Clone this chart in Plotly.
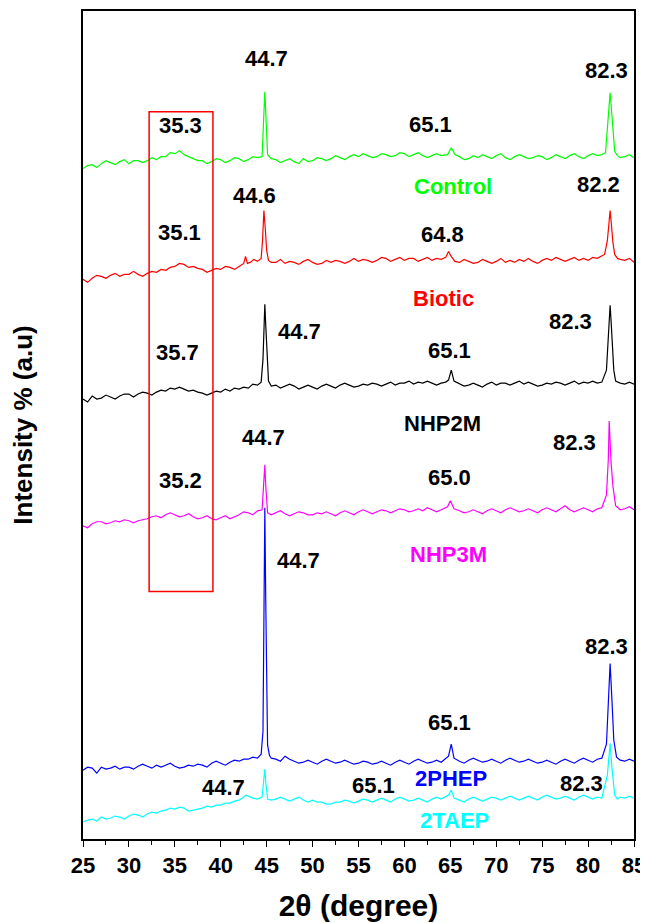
import plotly.graph_objects as go

# ---------------- data: (2-theta in degrees, stacked intensity in a.u.) ----------------
control = [(25, 672), (25.5, 675), (26, 676), (26.5, 673), (27, 677), (27.5, 680), (28, 678), (28.5, 676), (29, 679), (29.5, 681),
           (30, 677), (30.5, 680), (31, 680), (31.5, 678), (32, 680), (32.5, 683), (33, 681), (33.5, 684), (34, 684), (34.5, 688),
           (35, 687), (35.5, 690), (36, 686), (36.5, 684), (37, 682), (37.5, 680), (38, 680), (38.5, 677), (39, 679), (39.5, 682),
           (40, 681), (40.5, 678), (41, 680), (41.5, 683), (42, 682), (42.5, 679), (43, 681), (43.5, 684), (44, 683), (44.5, 684),
           (44.7, 728), (44.8, 749), (44.9, 728), (45.1, 686), (45.5, 682), (46, 681), (46.5, 678), (47, 680), (47.5, 682), (48, 679),
           (48.5, 677), (49, 682), (49.5, 679), (50, 680), (50.5, 683), (51, 682), (51.5, 680), (52, 682), (52.5, 685), (53, 683),
           (53.5, 681), (54, 684), (54.5, 686), (55, 684), (55.5, 687), (56, 685), (56.5, 683), (57, 684), (57.5, 687), (58, 686),
           (58.5, 684), (59, 685), (59.5, 688), (60, 687), (60.5, 684), (61, 686), (61.5, 688), (62, 685), (62.5, 683), (63, 685),
           (63.5, 687), (64, 685), (64.7, 686), (65.1, 693), (65.5, 686), (66, 684), (66.5, 681), (67, 682), (67.5, 685), (68, 683),
           (68.5, 686), (69, 684), (69.5, 682), (70, 685), (70.5, 687), (71, 683), (71.5, 681), (72, 684), (72.5, 686), (73, 684),
           (73.5, 682), (74, 683), (74.5, 685), (75, 684), (75.5, 681), (76, 683), (76.5, 686), (77, 684), (77.5, 682), (78, 685),
           (78.5, 687), (79, 684), (79.5, 682), (80, 685), (80.5, 687), (81, 685), (81.5, 686), (81.9, 688), (82.2, 728), (82.4, 748),
           (82.6, 725), (82.9, 689), (83.2, 685), (83.5, 683), (84, 684), (84.5, 686), (85, 683)]

biotic = [(25, 561), (25.5, 558), (26, 562), (26.5, 565), (27, 564), (27.5, 562), (28, 565), (28.5, 567), (29, 564), (29.5, 566),
          (30, 566), (30.5, 569), (31, 566), (31.5, 564), (32, 567), (32.5, 569), (33, 568), (33.5, 571), (34, 570), (34.5, 573),
          (35, 574), (35.5, 577), (36, 576), (36.5, 573), (37, 574), (37.5, 572), (38, 571), (38.5, 568), (39, 570), (39.5, 572),
          (40, 571), (40.5, 574), (41, 573), (41.5, 571), (42, 574), (42.5, 577), (42.7, 584), (42.9, 577), (43.2, 578), (43.6, 581),
          (44, 579), (44.4, 582), (44.55, 600), (44.7, 630), (44.85, 612), (45.0, 590), (45.2, 580), (45.5, 578), (46, 578), (46.5, 581),
          (47, 577), (47.5, 579), (48, 578), (48.5, 576), (49, 579), (49.5, 581), (50, 578), (50.5, 576), (51, 577), (51.5, 580),
          (52, 578), (52.5, 580), (53, 579), (53.5, 577), (54, 579), (54.5, 582), (55, 579), (55.5, 581), (56, 580), (56.5, 578),
          (57, 580), (57.5, 583), (58, 582), (58.5, 579), (59, 581), (59.5, 583), (60, 580), (60.5, 582), (61, 582), (61.5, 579),
          (62, 581), (62.5, 583), (63, 580), (63.5, 582), (64, 581), (64.5, 583), (64.8, 589), (65.1, 584), (65.5, 579), (66, 578),
          (66.5, 581), (67, 579), (67.5, 577), (68, 578), (68.5, 581), (69, 579), (69.5, 577), (70, 579), (70.5, 582), (71, 578),
          (71.5, 580), (72, 578), (72.5, 581), (73, 579), (73.5, 582), (74, 579), (74.5, 577), (75, 580), (75.5, 582), (76, 580),
          (76.5, 583), (77, 581), (77.5, 579), (78, 581), (78.5, 583), (79, 580), (79.5, 582), (80, 580), (80.5, 583), (81, 582),
          (81.4, 584), (81.8, 586), (82.1, 600), (82.25, 618), (82.4, 630), (82.55, 615), (82.7, 598), (82.9, 586), (83.2, 582),
          (83.5, 581), (84, 580), (84.5, 582), (85, 578)]

nhp2m = [(25, 441), (25.5, 438), (26, 444), (26.5, 441), (27, 442), (27.5, 445), (28, 443), (28.5, 441), (29, 444), (29.5, 446),
         (30, 446), (30.5, 443), (31, 446), (31.5, 448), (32, 447), (32.5, 445), (33, 448), (33.5, 450), (34, 449), (34.5, 452),
         (35, 451), (35.5, 453), (36, 451), (36.5, 449), (37, 450), (37.5, 448), (38, 447), (38.5, 445), (39, 447), (39.5, 449),
         (40, 448), (40.5, 451), (41, 449), (41.5, 452), (42, 451), (42.5, 453), (43, 452), (43.5, 456), (44, 455), (44.4, 458),
         (44.6, 481), (44.7, 510), (44.8, 536), (44.9, 515), (45.0, 498), (45.2, 459), (45.5, 454), (46, 455), (46.5, 452), (47, 454),
         (47.5, 456), (48, 454), (48.5, 451), (49, 453), (49.5, 455), (50, 453), (50.5, 451), (51, 454), (51.5, 456), (52, 454),
         (52.5, 452), (53, 455), (53.5, 457), (54, 455), (54.5, 453), (55, 454), (55.5, 456), (56, 455), (56.5, 457), (57, 456),
         (57.5, 454), (58, 456), (58.5, 458), (59, 455), (59.5, 457), (60, 457), (60.5, 459), (61, 456), (61.5, 458), (62, 457),
         (62.5, 459), (63, 457), (63.5, 455), (64, 457), (64.5, 458), (64.8, 460), (65.1, 470), (65.4, 459), (66, 456), (66.5, 454),
         (67, 455), (67.5, 457), (68, 455), (68.5, 453), (69, 456), (69.5, 458), (70, 455), (70.5, 457), (71, 457), (71.5, 455),
         (72, 457), (72.5, 459), (73, 456), (73.5, 458), (74, 456), (74.5, 454), (75, 455), (75.5, 457), (76, 456), (76.5, 458),
         (77, 457), (77.5, 455), (78, 457), (78.5, 459), (79, 456), (79.5, 458), (80, 457), (80.5, 459), (81, 457), (81.5, 458),
         (82.0, 470), (82.2, 500), (82.4, 535), (82.5, 520), (82.6, 498), (82.8, 470), (83.0, 459), (83.5, 457), (84, 456),
         (84.5, 458), (85, 456)]

nhp3m = [(25, 314), (25.5, 312), (26, 316), (26.5, 318), (27, 318), (27.5, 316), (28, 317), (28.5, 319), (29, 318), (29.5, 320),
         (30, 319), (30.5, 317), (31, 319), (31.5, 320), (32, 321), (32.5, 323), (33, 324), (33.5, 322), (34, 325), (34.5, 327),
         (35, 325), (35.5, 323), (36, 324), (36.5, 326), (37, 323), (37.5, 321), (38, 322), (38.5, 324), (39, 321), (39.5, 320),
         (40, 322), (40.5, 324), (41, 321), (41.5, 323), (42, 325), (42.5, 328), (43, 327), (43.5, 325), (44, 329), (44.5, 330),
         (44.7, 361), (44.8, 375), (44.9, 354), (45.1, 327), (45.5, 325), (46, 327), (46.5, 329), (47, 326), (47.5, 324), (48, 326),
         (48.5, 328), (49, 327), (49.5, 325), (50, 325), (50.5, 327), (51, 326), (51.5, 328), (52, 326), (52.5, 324), (53, 327),
         (53.5, 329), (54, 327), (54.5, 325), (55, 328), (55.5, 330), (56, 328), (56.5, 326), (57, 328), (57.5, 330), (58, 329),
         (58.5, 327), (59, 329), (59.5, 331), (60, 330), (60.5, 328), (61, 329), (61.5, 331), (62, 329), (62.5, 332), (63, 330),
         (63.5, 328), (64, 330), (64.7, 333), (65.0, 339), (65.4, 331), (66, 329), (66.5, 327), (67, 328), (67.5, 330), (68, 328),
         (68.5, 326), (69, 329), (69.5, 331), (70, 329), (70.5, 327), (71, 330), (71.5, 332), (72, 330), (72.5, 328), (73, 329),
         (73.5, 331), (74, 329), (74.5, 327), (75, 330), (75.5, 332), (76, 330), (76.5, 328), (77, 331), (77.5, 334), (78, 330),
         (78.5, 328), (79, 330), (79.5, 332), (80, 330), (80.5, 328), (81, 331), (81.5, 332), (82.0, 345), (82.2, 380), (82.3, 419),
         (82.4, 395), (82.5, 378), (82.7, 354), (83.0, 334), (83.5, 330), (84, 331), (84.5, 333), (85, 330)]

phep2 = [(25, 69), (25.5, 72), (26, 71), (26.5, 66), (27, 72), (27.5, 70), (28, 71), (28.5, 73), (29, 70), (29.5, 72),
         (30, 72), (30.5, 70), (31, 73), (31.5, 75), (32, 73), (32.5, 71), (33, 74), (33.5, 72), (34, 74), (34.5, 76),
         (35, 73), (35.5, 71), (36, 72), (36.5, 74), (37, 73), (37.5, 75), (38, 74), (38.5, 72), (39, 76), (39.5, 78),
         (40, 76), (40.5, 74), (41, 77), (41.5, 79), (42, 78), (42.5, 80), (43, 80), (43.5, 82), (44, 81), (44.4, 85),
         (44.6, 108), (44.7, 239), (44.8, 332), (44.9, 239), (45.0, 139), (45.1, 94), (45.3, 84), (45.5, 81), (46, 80), (46.5, 78),
         (47, 83), (47.5, 80), (48, 78), (48.5, 76), (49, 77), (49.5, 79), (50, 77), (50.5, 75), (51, 78), (51.5, 80),
         (52, 78), (52.5, 76), (53, 77), (53.5, 79), (54, 77), (54.5, 75), (55, 76), (55.5, 78), (56, 77), (56.5, 75),
         (57, 76), (57.5, 78), (58, 76), (58.5, 74), (59, 77), (59.5, 79), (60, 77), (60.5, 75), (61, 78), (61.5, 80),
         (62, 78), (62.5, 76), (63, 77), (63.5, 79), (64, 77), (64.8, 83), (65.1, 95), (65.4, 81), (66, 78), (66.5, 76),
         (67, 79), (67.5, 81), (68, 79), (68.5, 77), (69, 78), (69.5, 80), (70, 78), (70.5, 76), (71, 79), (71.5, 81),
         (72, 79), (72.5, 77), (73, 78), (73.5, 80), (74, 78), (74.5, 76), (75, 77), (75.5, 79), (76, 77), (76.5, 75),
         (77, 78), (77.5, 80), (78, 78), (78.5, 76), (79, 79), (79.5, 81), (80, 79), (80.5, 77), (81, 80), (81.5, 81),
         (82.0, 95), (82.2, 139), (82.4, 176), (82.6, 139), (82.8, 99), (83.1, 82), (83.5, 79), (84, 78), (84.5, 80), (85, 78)]

taep2 = [(25, 17), (25.5, 19), (26, 20), (26.5, 18), (27, 22), (27.5, 20), (28, 21), (28.5, 23), (29, 22), (29.5, 20),
         (30, 23), (30.5, 25), (31, 24), (31.5, 22), (32, 25), (32.5, 27), (33, 26), (33.5, 28), (34, 29), (34.5, 31),
         (35, 30), (35.5, 32), (36, 31), (36.5, 28), (37, 29), (37.5, 30), (38, 31), (38.5, 33), (39, 32), (39.5, 34),
         (40, 34), (40.5, 36), (41, 36), (41.5, 38), (42, 39), (42.5, 42), (42.7, 44), (43, 43), (43.5, 41), (44, 40),
         (44.5, 42), (44.7, 61), (44.8, 70), (44.9, 57), (45.1, 40), (45.5, 39), (46, 40), (46.5, 42), (47, 40), (47.5, 38),
         (48, 40), (48.5, 42), (49, 39), (49.5, 37), (50, 39), (50.5, 37), (51, 37), (51.5, 35), (52, 35), (52.5, 37),
         (53, 37), (53.5, 39), (54, 38), (54.5, 36), (55, 38), (55.5, 40), (56, 39), (56.5, 37), (57, 39), (57.5, 41),
         (58, 39), (58.5, 37), (59, 40), (59.5, 42), (60, 40), (60.5, 38), (61, 39), (61.5, 41), (62, 39), (62.5, 37),
         (63, 40), (63.5, 42), (64, 40), (64.8, 44), (65.1, 49), (65.4, 41), (66, 39), (66.5, 37), (67, 40), (67.5, 42),
         (68, 40), (68.5, 38), (69, 40), (69.5, 42), (70, 41), (70.5, 39), (71, 41), (71.5, 43), (72, 41), (72.5, 39),
         (73, 41), (73.5, 43), (74, 41), (74.5, 39), (75, 42), (75.5, 44), (76, 42), (76.5, 40), (77, 41), (77.5, 43),
         (78, 41), (78.5, 39), (79, 42), (79.5, 44), (80, 42), (80.5, 40), (81, 42), (81.5, 41), (82.1, 64), (82.4, 96),
         (82.6, 71), (82.9, 44), (83.2, 40), (83.5, 42), (84, 41), (84.5, 43), (85, 41)]

series_names = ["2TAEP", "2PHEP", "NHP3M", "NHP2M", "Biotic", "Control"]
series_data = [taep2, phep2, nhp3m, nhp2m, biotic, control]
series_colors = ["#00FFFF", "#0000FF", "#FF00FF", "#000000", "#FF0000", "#00FF00"]

# peak labels: (text, x in degrees, y in a.u.)
peak_labels = [
    ("44.7", 45.0, 782), ("82.3", 82.0, 770), ("35.3", 35.6, 715), ("65.1", 62.8, 716),
    ("44.6", 43.7, 645), ("82.2", 81.1, 656), ("35.1", 35.5, 608), ("64.8", 64.2, 606),
    ("44.7", 48.6, 509), ("82.3", 78.1, 519), ("35.7", 35.3, 488), ("65.1", 64.9, 490),
    ("44.7", 44.7, 402), ("82.3", 78.5, 397), ("35.2", 35.6, 359), ("65.0", 64.9, 362),
    ("44.7", 48.5, 279), ("82.3", 82.0, 193), ("65.1", 64.9, 117),
    ("44.7", 40.3, 52), ("65.1", 56.6, 54), ("82.3", 79.3, 56),
]
# sample name labels: (text, x, y, colour)
name_labels = [
    ("Control", 65.3, 654, "#00FF00"), ("Biotic", 64.3, 542, "#FF0000"),
    ("NHP2M", 64.2, 417, "#000000"), ("NHP3M", 64.8, 285, "#FF00FF"),
    ("2PHEP", 65.1, 61, "#0000FF"), ("2TAEP", 65.5, 19, "#00FFFF"),
]
# highlighted 2-theta window around 35 degrees
box_x = [32.2, 39.15]
box_y = [248, 729]

x_range = [25, 85]
y_range = [0, 830]
x_ticks = list(range(25, 86, 5))

FONT = "Liberation Sans, Arial, sans-serif"

# ---------------- figure ----------------
fig = go.Figure()
for name, pts, col in zip(series_names, series_data, series_colors):
    xs = [p[0] for p in pts]
    ys = [p[1] for p in pts]
    fig.add_trace(go.Scatter(x=xs, y=ys, mode="lines", name=name,
                             line=dict(color=col, width=1.2), showlegend=False))

for txt, xv, yv in peak_labels:
    fig.add_annotation(x=xv, y=yv, xref="x", yref="y", text=txt, showarrow=False,
                       font=dict(family=FONT, size=22, color="#000000", weight="bold"))
for txt, xv, yv, col in name_labels:
    fig.add_annotation(x=xv, y=yv, xref="x", yref="y", text=txt, showarrow=False,
                       font=dict(family=FONT, size=22, color=col, weight="bold"))

fig.add_shape(type="rect", xref="x", yref="y", x0=box_x[0], x1=box_x[1], y0=box_y[0], y1=box_y[1],
              line=dict(color="#FF0000", width=1.5), fillcolor="rgba(0,0,0,0)")

fig.update_layout(
    width=648, height=923,
    margin=dict(l=75, r=22, t=1, b=92),
    paper_bgcolor="white", plot_bgcolor="white",
    font=dict(family=FONT, color="#000000"),
)
fig.update_xaxes(
    range=x_range, tickvals=x_ticks, ticks="outside", ticklen=6, tickwidth=1.3, tickcolor="#000",
    minor=dict(dtick=2.5, ticks="outside", ticklen=4, tickwidth=1.2, tickcolor="#000"),
    showline=True, linecolor="#000", linewidth=1.5, mirror=True, showgrid=False, zeroline=False,
    tickfont=dict(size=22, weight="bold", family=FONT),
    title=dict(text="2θ (degree)", font=dict(size=30, weight="bold", family=FONT), standoff=18),
)
fig.update_yaxes(
    range=y_range, showticklabels=False, ticks="",
    showline=True, linecolor="#000", linewidth=1.5, mirror=True, showgrid=False, zeroline=False,
    title=dict(text="Intensity % (a.u)", font=dict(size=26, weight="bold", family=FONT), standoff=43),
)

fig.write_html("out.html")
